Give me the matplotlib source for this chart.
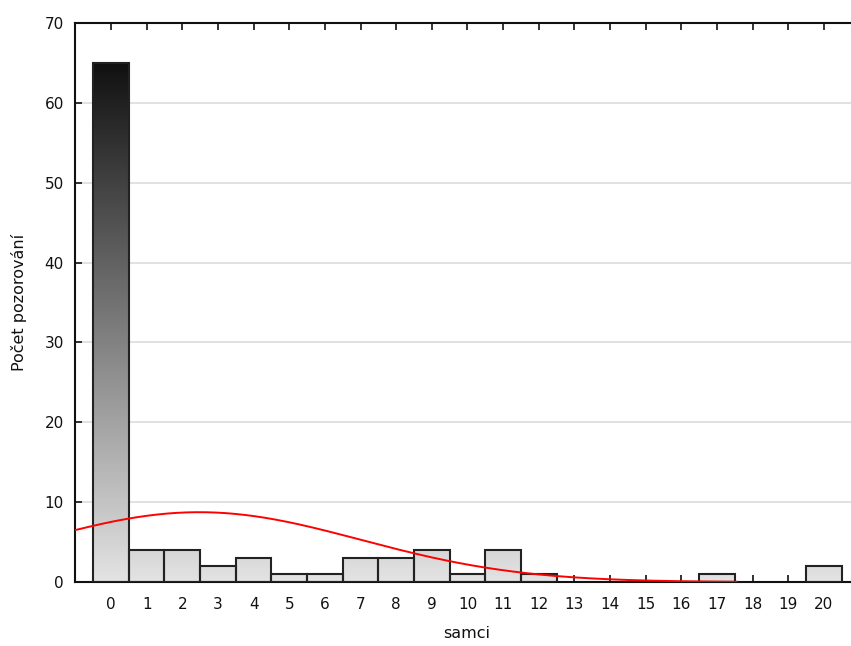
import numpy as np
import matplotlib
matplotlib.use("Agg")
import matplotlib.pyplot as plt
from matplotlib.colors import LinearSegmentedColormap, Normalize

categories = list(range(0, 21))
counts = [65, 4, 4, 2, 3, 1, 1, 3, 3, 4, 1, 4, 1, 0, 0, 0, 0, 1, 0, 0, 2]
tick_labels = [str(c) for c in categories]
y_ticks = [0, 10, 20, 30, 40, 50, 60, 70]

plt.rcParams['font.family'] = ['DejaVu Sans']

fig = plt.figure(figsize=(8.51, 6.46), dpi=100)
W, H = 851, 646
ax = fig.add_axes([75 / W, 1 - 582 / H, (851 - 75) / W, (582 - 23) / H])

cmap = LinearSegmentedColormap.from_list('g', ['#e3e3e3', '#111111'])
norm = Normalize(0, 65)

x = np.array(categories, dtype=float)
c = np.array(counts, dtype=float)
ax.set_xlim(-1.01, 20.76)
ax.set_ylim(0, 70)

for xi, hi in zip(x, c):
    if hi <= 0:
        continue
    grad = np.linspace(0, hi, 200).reshape(-1, 1)
    im = ax.imshow(grad, cmap=cmap, norm=norm, origin='lower', aspect='auto',
                   extent=(xi - 0.5, xi + 0.5, 0, hi), zorder=2, interpolation='bilinear')
    rect = plt.Rectangle((xi - 0.5, 0), 1, hi, fill=False, edgecolor='#222222',
                         linewidth=1.5, zorder=3)
    ax.add_patch(rect)
    im.set_clip_path(rect)

# fitted normal curve from the observed counts
N = c.sum()
mean = (x * c).sum() / N
sd = np.sqrt(((x - mean) ** 2 * c).sum() / N)
xs = np.linspace(-1.01, 17.55, 400)
ys = N * 1.0 / (sd * np.sqrt(2 * np.pi)) * np.exp(-(xs - mean) ** 2 / (2 * sd ** 2))
ax.plot(xs, ys, color='#ff0000', linewidth=1.4, zorder=4)

ax.set_yticks(y_ticks)
ax.set_xticks(categories)
ax.set_xticklabels(tick_labels)
ax.yaxis.grid(True, color='#dcdcdc', linewidth=1.2, zorder=0)
ax.set_axisbelow(True)

for s in ['left', 'bottom', 'top']:
    ax.spines[s].set_linewidth(1.5)
    ax.spines[s].set_color('#111111')
ax.spines['right'].set_visible(False)

ax.tick_params(axis='x', which='both', direction='in', length=5, width=1.2,
               top=True, labeltop=False, pad=11, labelsize=11, colors='#111111')
ax.tick_params(axis='y', direction='in', length=5, width=1.2, pad=8,
               labelsize=11, colors='#111111')

fig.text(19 / W, 1 - 302 / H, 'Počet pozorování', rotation=90, fontsize=11.5,
         ha='center', va='center', color='#111111')
fig.text(467 / W, 1 - 634 / H, 'samci', fontsize=11.5, ha='center', va='center',
         color='#111111')

fig.savefig('out.png', dpi=100)
